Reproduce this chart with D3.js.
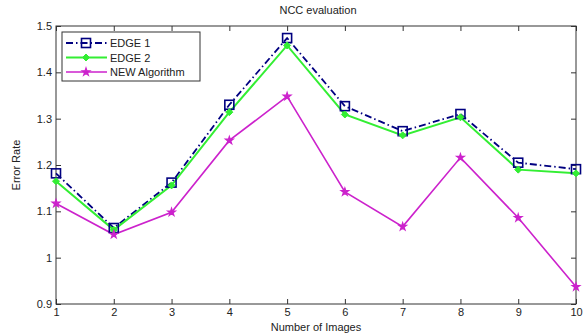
<!DOCTYPE html>
<html><head><meta charset="utf-8">
<script src="https://cdn.jsdelivr.net/npm/d3@7"></script>
<style>body{margin:0;background:#fff}svg{display:block}text{font-family:"Liberation Sans",Arial,sans-serif}</style>
</head><body><svg id="c" width="584" height="334"></svg>
<script>
const images = [1,2,3,4,5,6,7,8,9,10];
const edge1 = [1.182,1.064,1.162,1.330,1.474,1.327,1.273,1.310,1.205,1.191];
const edge2 = [1.165,1.060,1.156,1.314,1.458,1.309,1.264,1.303,1.190,1.182];
const newAlg = [1.117,1.050,1.098,1.253,1.348,1.142,1.067,1.216,1.086,0.937];
const yTicks = [0.9,1,1.1,1.2,1.3,1.4,1.5];
const seriesNames = ["EDGE 1","EDGE 2","NEW Algorithm"];

const svg = d3.select("#c");
const L=56, R=576, T=26, B=304;
const x = d3.scaleLinear().domain([1,10]).range([L,R]);
const y = d3.scaleLinear().domain([0.9,1.5]).range([B,T]);

svg.append("rect").attr("x",L).attr("y",T).attr("width",R-L).attr("height",B-T)
  .attr("fill","none").attr("stroke","#333").attr("stroke-width",1);

const fmtY = d=> d===1?"1":String(d);
const ax = svg.append("g").attr("transform",`translate(0,${B})`)
  .call(d3.axisBottom(x).tickValues(images).tickSize(-5).tickPadding(4).tickFormat(d3.format("d")));
const axT = svg.append("g").attr("transform",`translate(0,${T})`)
  .call(d3.axisTop(x).tickValues(images).tickSize(-5).tickFormat(""));
const ay = svg.append("g").attr("transform",`translate(${L},0)`)
  .call(d3.axisLeft(y).tickValues(yTicks).tickSize(-5).tickPadding(4).tickFormat(fmtY));
const ayR = svg.append("g").attr("transform",`translate(${R},0)`)
  .call(d3.axisRight(y).tickValues(yTicks).tickSize(-5).tickFormat(""));
[ax,axT,ay,ayR].forEach(g=>{g.select(".domain").remove();
  g.selectAll("line").attr("stroke","#333");
  g.selectAll("text").attr("font-size",11).attr("fill","#222").style("font-family","Liberation Sans, Arial, sans-serif");});

svg.append("text").attr("x",(L+R)/2+2).attr("y",14).attr("text-anchor","middle").attr("font-size",11).attr("fill","#222").text("NCC evaluation");
svg.append("text").attr("x",(L+R)/2).attr("y",331).attr("text-anchor","middle").attr("font-size",11).attr("fill","#222").text("Number of Images");
svg.append("text").attr("transform",`translate(20,${(T+B)/2}) rotate(-90)`).attr("text-anchor","middle").attr("font-size",11).attr("fill","#222").text("Error Rate");

const line = d3.line().x((d,i)=>x(images[i])).y(d=>y(d));
const cfg = [
  {data:edge1,color:"#000080",dash:"7,3,1.5,3",w:1.8,shape:"square"},
  {data:edge2,color:"#33ee33",dash:null,w:2,shape:"diamond"},
  {data:newAlg,color:"#cc22cc",dash:null,w:1.6,shape:"star"}
];
function marker(g,shape,color,cx,cy){
  if(shape==="square"){
    g.append("rect").attr("x",cx-4.5).attr("y",cy-4.5).attr("width",9).attr("height",9)
      .attr("fill","none").attr("stroke",color).attr("stroke-width",1.6);
  } else if(shape==="diamond"){
    g.append("path").attr("d",`M${cx},${cy-3.5}L${cx+3.5},${cy}L${cx},${cy+3.5}L${cx-3.5},${cy}Z`)
      .attr("fill",color).attr("stroke",color).attr("stroke-width",1);
  } else {
    g.append("path").attr("d",d3.symbol(d3.symbolStar,18)()).attr("transform",`translate(${cx},${cy})`)
      .attr("fill",color).attr("stroke",color).attr("stroke-width",1.2);
  }
}
cfg.forEach(c=>{
  svg.append("path").datum(c.data).attr("d",line).attr("fill","none").attr("stroke",c.color)
    .attr("stroke-width",c.w).attr("stroke-dasharray",c.dash);
});
cfg.forEach(c=>{
  const g=svg.append("g");
  c.data.forEach((v,i)=>marker(g,c.shape,c.color,x(images[i]),y(v)));
});

const lg = svg.append("g");
lg.append("rect").attr("x",62).attr("y",32).attr("width",138).attr("height",49).attr("fill","#fff").attr("stroke","#333").attr("stroke-width",1);
cfg.forEach((c,i)=>{
  const yy=43+i*14.5;
  lg.append("line").attr("x1",66).attr("x2",107).attr("y1",yy).attr("y2",yy).attr("stroke",c.color)
    .attr("stroke-width",c.w).attr("stroke-dasharray",c.dash);
  marker(lg,c.shape,c.color,86,yy);
  lg.append("text").attr("x",110).attr("y",yy+4).attr("font-size",11).attr("fill","#222").text(seriesNames[i]);
});
</script></body></html>
